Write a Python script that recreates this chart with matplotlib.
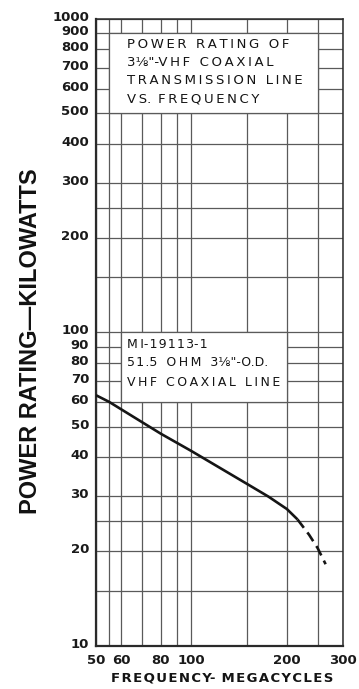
import matplotlib
matplotlib.use("Agg")
import matplotlib.pyplot as plt
import matplotlib.transforms as mtransforms
from matplotlib.patches import Rectangle
from matplotlib.ticker import FixedLocator, FixedFormatter, NullFormatter

# Rated power of the line (solid) and the extrapolated part (dashed)
freq_rated = [50, 55, 80, 100, 150, 175, 200, 216]
power_rated = [63, 60, 47.5, 41.8, 32.8, 29.9, 27.3, 25.3]
freq_extrap = [216, 235, 250, 265]
power_extrap = [25.3, 22.6, 20.5, 18.2]

# Axis ticks (labelled) and extra grid rulings (unlabelled)
x_major = [50, 60, 80, 100, 200, 300]
x_minor = [55, 70, 90, 150, 250]
y_major = [10, 20, 30, 40, 50, 60, 70, 80, 90, 100,
           200, 300, 400, 500, 600, 700, 800, 900, 1000]
y_minor = [15, 25, 150, 250]

title_lines = ['POWER RATING OF', '3⅛"-VHF COAXIAL', 'TRANSMISSION LINE', 'VS. FREQUENCY']
model_lines = ['MI-19113-1', '51.5 OHM 3⅛"-O.D.', 'VHF COAXIAL LINE']

W, H = 359, 689
GRID = '#5a5a5a'
INK = '#141414'
TIGHT = set('⅛"-.1')


def spaced(s, sep='\u2009'):
    """Letter-spaced caption text; no extra gap next to narrow marks."""
    out = s[0]
    for prev, ch in zip(s, s[1:]):
        if prev in TIGHT or ch in TIGHT:
            out += '\u200a' + ch if (prev == '1' or ch == '1') else ch
        else:
            out += sep + ch
    return out


fig = plt.figure(figsize=(W / 100, H / 100), dpi=100)
fig.patch.set_facecolor('white')
ax = fig.add_axes([96 / W, 1 - 645.7 / H, (342.7 - 96) / W, (645.7 - 19) / H])
ax.set_xscale('log')
ax.set_yscale('log')
ax.set_xlim(50, 300)
ax.set_ylim(10, 1000)

ax.xaxis.set_major_locator(FixedLocator(x_major))
ax.xaxis.set_major_formatter(FixedFormatter([str(v) for v in x_major]))
ax.xaxis.set_minor_locator(FixedLocator(x_minor))
ax.xaxis.set_minor_formatter(NullFormatter())
ax.yaxis.set_major_locator(FixedLocator(y_major))
ax.yaxis.set_major_formatter(FixedFormatter([str(v) for v in y_major]))
ax.yaxis.set_minor_locator(FixedLocator(y_minor))
ax.yaxis.set_minor_formatter(NullFormatter())

ax.tick_params(which='both', length=0)
ax.tick_params(axis='y', pad=5, labelsize=9.5)
ax.tick_params(axis='x', pad=6, labelsize=9.5)
for lab in ax.get_xticklabels() + ax.get_yticklabels():
    lab.set_fontfamily('DejaVu Sans')
    lab.set_fontweight('bold')
    lab.set_color('#1a1a1a')
lift = mtransforms.ScaledTranslation(0, 3 / 100, fig.dpi_scale_trans)
for lab in ax.get_yticklabels():
    lab.set_transform(lab.get_transform() + lift)

ax.grid(True, which='both', color=GRID, linewidth=0.9)
ax.set_axisbelow(True)
for side, sp in ax.spines.items():
    sp.set_color('#2a2a2a')
    sp.set_linewidth(1.6 if side in ('left', 'bottom') else 1.1)

# White panels carrying the captions; their edges sit on grid rulings
ax.add_patch(Rectangle((55, 500), 250 - 55, 900 - 500, facecolor='white',
                       edgecolor=GRID, linewidth=0.9, zorder=1.5))
ax.add_patch(Rectangle((60, 60), 200 - 60, 100 - 60, facecolor='white',
                       edgecolor=GRID, linewidth=0.9, zorder=1.5))

ax.plot(freq_rated, power_rated, color='#151515', linewidth=1.9,
        solid_capstyle='butt', solid_joinstyle='round', zorder=3)
ax.plot(freq_extrap, power_extrap, color='#151515', linewidth=1.9,
        linestyle=(0, (4, 2.2)), dash_capstyle='butt', zorder=3)

txt = dict(family='DejaVu Sans', color=INK, va='center', ha='left')
for line, yc in zip(title_lines, [45, 62.5, 81, 99]):
    fig.text(127 / W, 1 - yc / H, spaced(line), fontsize=9.5, **txt)
for line, yc in zip(model_lines, [344, 363, 382]):
    fig.text(127 / W, 1 - yc / H, spaced(line), fontsize=9, **txt)

fig.text(222.5 / W, 1 - 678 / H, spaced('FREQUENCY- MEGACYCLES', '\u200a'),
         fontsize=9.5, family='DejaVu Sans', fontweight='bold', color=INK,
         ha='center', va='center')
fig.text(31 / W, 1 - 341 / H, 'POWER RATING\u2014KILOWATTS', fontsize=17,
         family='Liberation Sans', fontweight='bold', color='#111111',
         rotation=90, ha='center', va='center')

fig.savefig('out.png', dpi=100)
